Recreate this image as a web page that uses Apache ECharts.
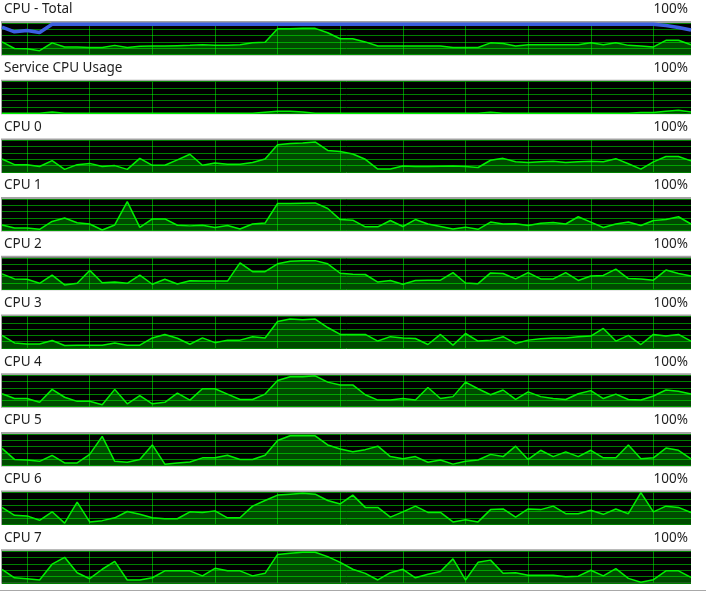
<!DOCTYPE html>
<html>
<head>
<meta charset="utf-8">
<script src="https://cdn.jsdelivr.net/npm/echarts@6/dist/echarts.min.js"></script>
<style>
html,body{margin:0;padding:0;background:#fff;}
#chart{width:706px;height:610px;}
</style>
</head>
<body>
<div id="chart"></div>
<script>
// ---- data ----
const panelTitles = ["CPU - Total", "Service CPU Usage", "CPU 0", "CPU 1", "CPU 2", "CPU 3", "CPU 4", "CPU 5", "CPU 6", "CPU 7"];
const scaleLabel = "100%";
const sampleIndex = [0,1,2,3,4,5,6,7,8,9,10,11,12,13,14,15,16,17,18,19,20,21,22,23,24,25,26,27,28,29,30,31,32,33,34,35,36,37,38,39,40,41,42,43,44,45,46,47,48,49,50,51,52,53,54,55];

const cpuTotal = [40,19,18,12,37,24,24,22,22,29,22,26,27,27,28,29,31,29,29,31,37,39,82,82,83,83,69,50,50,40,27,27,27,27,27,27,22,22,22,37,35,27,31,31,31,31,31,37,31,37,29,27,24,45,45,31];
const maxFrequency = [87,72,76,70,96,96,96,96,96,96,96,96,96,96,96,96,96,96,96,96,96,96,96,96,96,96,96,96,96,96,96,96,96,96,96,96,96,96,96,96,96,96,96,96,96,96,96,96,96,96,96,96,96,92,86,78];
const serviceCpu = [0,0,0,0,4,0,0,0,0,0,0,0,0,0,0,0,0,0,0,0,0,3,6,6,4,0,0,0,0,0,0,0,0,0,0,0,0,0,0,3,0,0,0,0,0,0,0,0,0,0,0,2,2,6,9,4];
const cpu0 = [41,23,23,17,36,8,23,27,17,20,8,43,21,21,38,56,21,28,24,24,30,41,86,90,92,95,68,65,57,40,9,9,19,17,17,18,19,17,14,37,43,32,30,32,34,30,32,34,32,42,26,9,32,49,49,35];
const cpu1 = [18,8,8,4,29,40,25,21,2,18,92,10,37,37,17,15,17,10,16,5,21,24,86,86,87,88,70,35,33,12,12,32,13,35,21,13,5,11,4,27,21,22,16,23,26,21,44,27,10,21,27,16,32,35,44,21];
const cpu2 = [49,33,32,19,45,14,19,60,21,23,19,45,16,32,17,27,26,26,26,84,56,56,81,89,91,91,81,51,48,47,23,28,16,28,29,29,53,20,18,52,50,33,53,33,33,53,28,42,44,64,34,33,29,61,50,42];
const cpu3 = [40,16,13,13,24,8,9,9,9,16,9,9,32,43,31,12,32,17,25,25,36,32,84,92,90,92,65,43,43,43,22,36,32,30,11,43,9,46,22,25,36,14,25,29,32,32,36,38,62,22,40,11,43,38,43,22];
const cpu4 = [41,26,26,14,55,30,17,17,6,55,9,35,9,14,43,21,57,57,40,23,23,40,83,95,95,98,78,69,69,38,21,21,26,21,61,26,32,78,57,38,53,23,47,32,26,23,41,51,26,40,23,21,34,53,49,40];
const cpu5 = [54,19,17,13,32,8,8,35,92,13,10,19,65,4,8,11,24,24,32,19,19,32,79,94,94,94,65,52,43,50,61,28,21,28,10,17,4,13,17,35,28,61,19,48,28,43,28,48,24,24,65,21,24,55,48,21];
const cpu6 = [53,28,26,12,39,3,70,7,11,20,40,31,20,17,17,39,37,42,20,20,57,75,92,95,98,95,75,64,92,53,53,22,39,57,37,37,7,14,7,46,48,22,48,46,57,33,33,44,31,48,33,100,39,57,53,37];
const cpu7 = [43,16,13,9,59,81,32,13,43,68,9,9,16,38,38,38,22,46,38,38,22,30,90,94,97,97,83,65,43,30,9,32,43,16,27,36,76,9,65,72,30,32,24,24,24,19,21,40,22,45,14,2,10,38,38,17];

const usageSeries = [cpuTotal, serviceCpu, cpu0, cpu1, cpu2, cpu3, cpu4, cpu5, cpu6, cpu7];

// ---- layout ----
const W = 706;
const PLOT_LEFT = 2, PLOT_RIGHT = 15;
const PANEL_STEP = 58.7, FIRST_TOP = 23, PLOT_H = 31.5;
const FONT = '"Noto Sans", "Open Sans", sans-serif';
const GRID_EVERY = 5, GRID_PHASE = 2;

// scrolling vertical grid: every 5th sample, phase 2
const gridSamples = sampleIndex.filter(function (k) { return k % GRID_EVERY === GRID_PHASE; });

const grids = [], xAxes = [], yAxes = [], series = [], graphics = [];

panelTitles.forEach(function (name, i) {
  const top = FIRST_TOP + PANEL_STEP * i;
  grids.push({ left: PLOT_LEFT, right: PLOT_RIGHT, top: top, height: PLOT_H, containLabel: false });

  xAxes.push({
    type: 'category', gridIndex: i, data: sampleIndex, boundaryGap: false,
    axisLine: { show: false }, axisTick: { show: false }, axisLabel: { show: false },
    splitLine: { show: false }
  });
  yAxes.push({
    type: 'value', gridIndex: i, min: 0, max: 100, interval: 20,
    axisLine: { show: false }, axisTick: { show: false }, axisLabel: { show: false },
    splitLine: { show: true, lineStyle: { color: '#008000', width: 1 } }
  });

  series.push({
    type: 'line', name: name, xAxisIndex: i, yAxisIndex: i,
    data: usageSeries[i], symbol: 'none', smooth: false,
    lineStyle: { color: '#00f000', width: 1.5 },
    areaStyle: { color: 'rgba(0,255,0,0.42)', origin: 'start' },
    markLine: {
      silent: true, animation: false, symbol: ['none', 'none'],
      label: { show: false },
      lineStyle: { color: 'rgba(0,255,0,0.5)', width: 1, type: 'solid' },
      emphasis: { disabled: true },
      data: gridSamples.map(function (k) { return { xAxis: k }; })
    },
    z: 3
  });

  // frame + black plot background
  graphics.push({ type: 'rect', z: -2, silent: true,
    shape: { x: 1, y: top - 2, width: W - PLOT_LEFT - PLOT_RIGHT + 1, height: PLOT_H + 3 },
    style: { fill: '#a3a3a3' } });
  graphics.push({ type: 'rect', z: -1, silent: true,
    shape: { x: PLOT_LEFT, y: top, width: W - PLOT_LEFT - PLOT_RIGHT, height: PLOT_H },
    style: { fill: '#000000' } });

  // titles
  graphics.push({ type: 'text', silent: true, x: 4, y: top - 13.5,
    style: { text: name, fill: '#1e1e1e', font: '13.5px ' + FONT, textAlign: 'left', textVerticalAlign: 'middle' } });
  graphics.push({ type: 'text', silent: true, x: 688, y: top - 13.5,
    style: { text: scaleLabel, fill: '#1e1e1e', font: '13.5px ' + FONT, textAlign: 'right', textVerticalAlign: 'middle' } });
});

// maximum frequency line on CPU - Total
series.push({
  type: 'line', name: 'Maximum Frequency', xAxisIndex: 0, yAxisIndex: 0,
  data: maxFrequency, symbol: 'none',
  lineStyle: { color: '#3b5fe0', width: 3.5 }, z: 5
});

// bottom separator
graphics.push({ type: 'rect', silent: true, shape: { x: 0, y: 590, width: W, height: 1 }, style: { fill: '#a8a8a8' } });

const chart = echarts.init(document.getElementById('chart'), null, { renderer: 'canvas' });
chart.setOption({
  animation: false,
  backgroundColor: '#ffffff',
  grid: grids,
  xAxis: xAxes,
  yAxis: yAxes,
  series: series,
  graphic: { elements: graphics }
});
</script>
</body>
</html>
